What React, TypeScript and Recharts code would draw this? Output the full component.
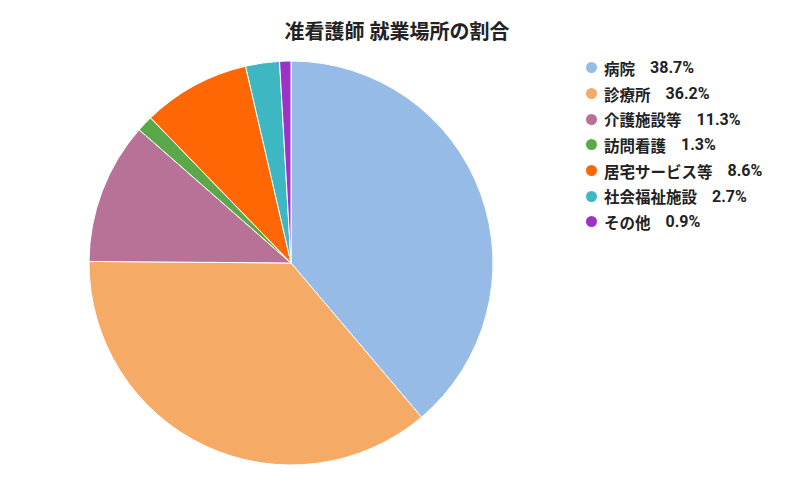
import { PieChart, Pie, Cell } from "recharts";

const labels = ["病院", "診療所", "介護施設等", "訪問看護", "居宅サービス等", "社会福祉施設", "その他"];
const shares = [38.7, 36.2, 11.3, 1.3, 8.6, 2.7, 0.9];
const colors = ["#97bbe7", "#f5aa65", "#b87197", "#5aa84a", "#fe6703", "#3db8c3", "#9c33c7"];

const data = labels.map((name, i) => ({ name, value: shares[i] }));

const FONT = "Roboto, 'Noto Sans CJK JP', sans-serif";

// legend drawn as plain html next to the pie
const LegendList = () => (
  <div style={{ position: "absolute", left: 586, top: 55, fontFamily: FONT }}>
    {data.map((d, i) => (
      <div key={d.name} style={{ display: "flex", alignItems: "center", height: 25.7 }}>
        <span
          style={{
            width: 11,
            height: 11,
            borderRadius: "50%",
            background: colors[i],
            display: "inline-block",
            marginRight: 7,
          }}
        />
        <span style={{ fontSize: 15.5, fontWeight: 700, color: "#222" }}>{d.name}</span>
        <span style={{ fontSize: 16, fontWeight: 700, color: "#222", marginLeft: 15 }}>
          {d.value.toFixed(1)}%
        </span>
      </div>
    ))}
  </div>
);

export default function App() {
  return (
    <div style={{ position: "absolute", left: 0, top: 0, width: 792, height: 488, background: "#fff" }}>
      <PieChart width={792} height={488} margin={{ top: 0, right: 0, bottom: 0, left: 0 }}>
        <text
          x={397}
          y={39}
          textAnchor="middle"
          style={{ fontFamily: FONT, fontSize: 20, fontWeight: 700, fill: "#222" }}
        >
          准看護師 就業場所の割合
        </text>
        <Pie
          data={data}
          dataKey="value"
          nameKey="name"
          cx={291}
          cy={263}
          outerRadius={202}
          startAngle={90}
          endAngle={-270}
          stroke="#ffffff"
          strokeWidth={1}
          isAnimationActive={false}
        >
          {data.map((d, i) => (
            <Cell key={d.name} fill={colors[i]} />
          ))}
        </Pie>
      </PieChart>
      <LegendList />
    </div>
  );
}
